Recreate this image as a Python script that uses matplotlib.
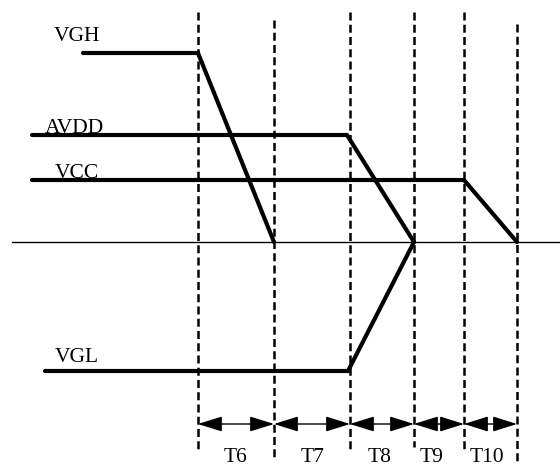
import matplotlib.pyplot as plt

plt.rcParams['font.family'] = ['Liberation Serif', 'DejaVu Serif']

# timing boundaries (pixel-like units, y grows downward)
edges = [198, 274, 350, 414, 464, 517]
edge_top = [12, 20, 12, 12, 12, 24]
edge_bottom = [450, 457, 450, 447, 450, 462]
ground = 242

signal_names = ['VGH', 'AVDD', 'VCC', 'VGL']
signal_x = [[83, 198, 274], [32, 347, 414], [32, 464, 517], [45, 348, 414]]
signal_y = [[53, 53, ground], [135, 135, ground], [180, 180, ground], [371, 371, ground]]
label_pos = [(54, 41), (45, 133), (55, 178), (55, 362)]

period_labels = ['T6', 'T7', 'T8', 'T9', 'T10']
period_label_x = [236, 313, 380, 432, 487]

fig = plt.figure(figsize=(5.6, 4.66), dpi=100)
ax = fig.add_axes([0, 0, 1, 1])
ax.set_xlim(0, 560)
ax.set_ylim(466, 0)
ax.axis('off')

# ground line
ax.plot([12, 560], [ground, ground], color='black', lw=1.0)

# dashed boundaries
for x, t, b in zip(edges, edge_top, edge_bottom):
    ax.plot([x, x], [t, b], color='black', lw=1.8, dashes=(3.2, 1.7))

# signals
for xs, ys, name, (lx, ly) in zip(signal_x, signal_y, signal_names, label_pos):
    ax.plot(xs, ys, color='black', lw=3.0, solid_capstyle='round',
            solid_joinstyle='miter')
    ax.text(lx, ly, name, fontsize=15.5, va='baseline', ha='left')

# period arrows
for i, lab in enumerate(period_labels):
    ax.annotate('', xy=(edges[i + 1], 424), xytext=(edges[i], 424),
                arrowprops=dict(arrowstyle='<|-|>,head_length=1.5,head_width=0.47',
                                color='black', lw=1.0, shrinkA=0, shrinkB=0,
                                mutation_scale=10))
    ax.text(period_label_x[i], 462, lab, fontsize=15.5, va='baseline', ha='center')

fig.savefig('out.png', dpi=100)
